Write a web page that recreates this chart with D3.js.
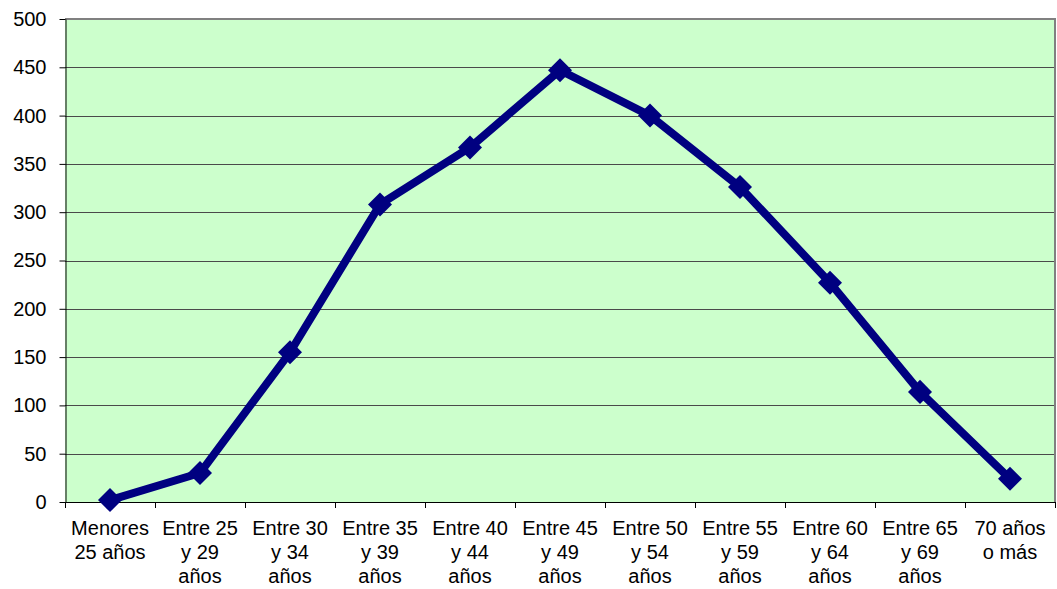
<!DOCTYPE html>
<html><head><meta charset="utf-8">
<script src="https://cdn.jsdelivr.net/npm/d3@7"></script>
<style>body{margin:0;background:#fff}svg{display:block}text{font-family:"Liberation Sans",Arial,sans-serif;fill:#000}</style>
</head><body>
<svg id="c" width="1057" height="589"></svg>
<script>
const categories = [["Menores","25 años"],["Entre 25","y 29","años"],["Entre 30","y 34","años"],["Entre 35","y 39","años"],["Entre 40","y 44","años"],["Entre 45","y 49","años"],["Entre 50","y 54","años"],["Entre 55","y 59","años"],["Entre 60","y 64","años"],["Entre 65","y 69","años"],["70 años","o más"]];
const values = [2, 30, 155, 308, 367, 447, 400, 326, 227, 114, 24];
const yTicks = [0, 50, 100, 150, 200, 250, 300, 350, 400, 450, 500];

const svg = d3.select("#c");
const L = 65, R = 1055, T = 19, B = 502;
const x = d3.scaleBand().domain(d3.range(categories.length)).range([L, R]);
const y = d3.scaleLinear().domain([0, 500]).range([B, T]);

svg.append("rect").attr("x", L).attr("y", T).attr("width", R - L).attr("height", B - T).attr("fill", "#CCFFCC");

// gridlines
svg.append("g").selectAll("line").data(yTicks.filter(d => d > 0 && d < 500)).join("line")
  .attr("x1", L).attr("x2", R).attr("y1", d => Math.round(y(d)) + 0.5).attr("y2", d => Math.round(y(d)) + 0.5)
  .attr("stroke", "#4a4a4a").attr("stroke-width", 1);

// top & right border
svg.append("line").attr("x1", L).attr("x2", R + 1).attr("y1", T).attr("y2", T).attr("stroke", "#808080").attr("stroke-width", 2);
svg.append("line").attr("x1", R).attr("x2", R).attr("y1", T).attr("y2", B).attr("stroke", "#808080").attr("stroke-width", 2);

// y axis
const yAxis = d3.axisLeft(y).tickValues(yTicks).tickSize(6).tickPadding(13).tickSizeOuter(0);
const ga = svg.append("g").attr("transform", `translate(${L + 0.5},0)`).call(yAxis);
ga.selectAll("text").attr("font-size", 20).style("font-family", '"Liberation Sans",Arial,sans-serif');
ga.selectAll("line,path").attr("stroke", "#000");

// x axis
const xb = svg.append("g");
xb.append("line").attr("x1", L).attr("x2", R).attr("y1", B + 0.5).attr("y2", B + 0.5).attr("stroke", "#000");
xb.selectAll("line.t").data(d3.range(categories.length + 1)).join("line").attr("class", "t")
  .attr("x1", i => Math.round(L + i * x.bandwidth()) + 0.5).attr("x2", i => Math.round(L + i * x.bandwidth()) + 0.5)
  .attr("y1", B).attr("y2", B + 6).attr("stroke", "#000");
const lab = xb.selectAll("text").data(categories).join("text")
  .attr("text-anchor", "middle").attr("font-size", 20)
  .attr("transform", (d, i) => `translate(${x(i) + x.bandwidth() / 2},535)`);
lab.selectAll("tspan").data(d => d).join("tspan").attr("x", 0).attr("dy", (d, j) => j ? 24 : 0).text(d => d);

// line
const line = d3.line().x((d, i) => x(i) + x.bandwidth() / 2).y(d => y(d));
svg.append("path").datum(values).attr("d", line).attr("fill", "none").attr("stroke", "#000080").attr("stroke-width", 8).attr("stroke-linejoin", "round");

// markers
svg.append("g").selectAll("path").data(values).join("path")
  .attr("d", d3.symbol().type(d3.symbolSquare).size(17 * 17))
  .attr("transform", (d, i) => `translate(${x(i) + x.bandwidth() / 2},${y(d)}) rotate(45)`)
  .attr("fill", "#000080");
</script>
</body></html>
